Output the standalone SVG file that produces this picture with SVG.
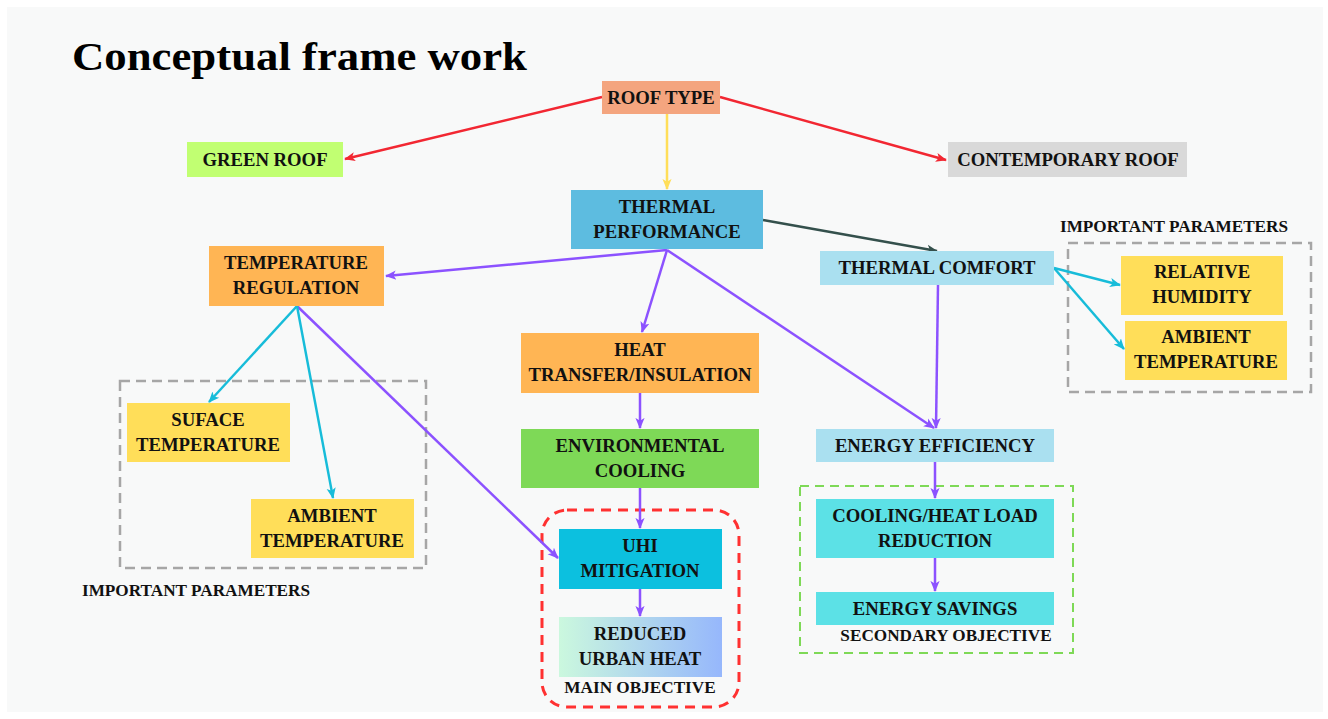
<svg xmlns="http://www.w3.org/2000/svg" width="1328" height="719" viewBox="0 0 1328 719">
<style>
.t{font-family:"Liberation Serif","Times New Roman",serif;font-weight:bold;font-size:18.7px;fill:#111;text-anchor:middle}
.lbl{font-family:"Liberation Serif","Times New Roman",serif;font-weight:bold;font-size:17.2px;fill:#111;text-anchor:middle}
.c{fill:none;stroke-width:2.5}
</style>
<defs>
<marker id="aR" viewBox="0 0 12 12" markerWidth="11" markerHeight="11" refX="11" refY="6" orient="auto" markerUnits="userSpaceOnUse"><path d="M0,1 L12,6 L0,11 L3,6z" fill="#F22732"/></marker>
<marker id="aY" viewBox="0 0 12 12" markerWidth="11" markerHeight="11" refX="11" refY="6" orient="auto" markerUnits="userSpaceOnUse"><path d="M0,1 L12,6 L0,11 L3,6z" fill="#FFDE59"/></marker>
<marker id="aS" viewBox="0 0 12 12" markerWidth="11" markerHeight="11" refX="11" refY="6" orient="auto" markerUnits="userSpaceOnUse"><path d="M0,1 L12,6 L0,11 L3,6z" fill="#34504C"/></marker>
<marker id="aP" viewBox="0 0 12 12" markerWidth="11" markerHeight="11" refX="11" refY="6" orient="auto" markerUnits="userSpaceOnUse"><path d="M0,1 L12,6 L0,11 L3,6z" fill="#8C52FF"/></marker>
<marker id="aC" viewBox="0 0 12 12" markerWidth="11" markerHeight="11" refX="11" refY="6" orient="auto" markerUnits="userSpaceOnUse"><path d="M0,1 L12,6 L0,11 L3,6z" fill="#17BCD9"/></marker>
<linearGradient id="gUH" x1="0" y1="0" x2="1" y2="0"><stop offset="0" stop-color="#CBF8DE"/><stop offset="1" stop-color="#96B7FC"/></linearGradient>
</defs>
<rect x="0" y="0" width="1328" height="719" fill="#ffffff"/>
<rect x="7" y="7" width="1316" height="705" fill="#F8F9F9"/>
<text x="72" y="70" font-family="'Liberation Serif','Times New Roman',serif" font-weight="bold" font-size="41" fill="#000" textLength="455" lengthAdjust="spacingAndGlyphs">Conceptual frame work</text>

<g id="groups">
<rect x="120" y="381" width="306" height="187" fill="none" stroke="#A6A6A6" stroke-width="2.5" stroke-dasharray="10 6"/>
<rect x="1068" y="243" width="243" height="149" fill="none" stroke="#A6A6A6" stroke-width="2.5" stroke-dasharray="10 6"/>
<rect x="542" y="510" width="197" height="197" rx="25" fill="none" stroke="#FF3131" stroke-width="3" stroke-dasharray="10 7"/>
<rect x="800" y="486" width="273" height="167" fill="none" stroke="#7ED957" stroke-width="2" stroke-dasharray="9 6"/>
<text class="lbl" x="196" y="596">IMPORTANT PARAMETERS</text>
<text class="lbl" x="1174" y="232">IMPORTANT PARAMETERS</text>
<text class="lbl" x="640" y="693">MAIN OBJECTIVE</text>
<text class="lbl" x="946" y="641">SECONDARY OBJECTIVE</text>
</g>

<g id="connectors">
<path class="c" stroke="#F22732" d="M602,97 L345,159" marker-end="url(#aR)"/>
<path class="c" stroke="#F22732" d="M720,97 L946,160" marker-end="url(#aR)"/>
<path class="c" stroke="#FFDE59" d="M667,114 L667,189" marker-end="url(#aY)"/>
<path class="c" stroke="#34504C" d="M763,220 L937,251" marker-end="url(#aS)"/>
<path class="c" stroke="#8C52FF" d="M667,250 L386,276" marker-end="url(#aP)"/>
<path class="c" stroke="#8C52FF" d="M667,250 L642,332" marker-end="url(#aP)"/>
<path class="c" stroke="#8C52FF" d="M667,250 L934,428" marker-end="url(#aP)"/>
<path class="c" stroke="#8C52FF" d="M938,285 L936,428" marker-end="url(#aP)"/>
<path class="c" stroke="#8C52FF" d="M640,393 L640,428" marker-end="url(#aP)"/>
<path class="c" stroke="#8C52FF" d="M640,488 L640,528" marker-end="url(#aP)"/>
<path class="c" stroke="#8C52FF" d="M640,589 L640,616" marker-end="url(#aP)"/>
<path class="c" stroke="#8C52FF" d="M297,306 L558,558" marker-end="url(#aP)"/>
<path class="c" stroke="#8C52FF" d="M935,462 L935,498" marker-end="url(#aP)"/>
<path class="c" stroke="#8C52FF" d="M935,558 L935,591" marker-end="url(#aP)"/>
<path class="c" stroke="#17BCD9" d="M297,306 L209,402" marker-end="url(#aC)"/>
<path class="c" stroke="#17BCD9" d="M297,306 L333,498" marker-end="url(#aC)"/>
<path class="c" stroke="#17BCD9" d="M1054,268 L1120,285" marker-end="url(#aC)"/>
<path class="c" stroke="#17BCD9" d="M1054,268 L1124,349" marker-end="url(#aC)"/>
</g>

<g id="roof-type"><rect x="602" y="81" width="118" height="33" fill="#F4A57F"/><text class="t" x="661" y="104">ROOF TYPE</text></g>
<g id="green-roof"><rect x="187" y="142" width="156" height="35" fill="#C1FF72"/><text class="t" x="265" y="166">GREEN ROOF</text></g>
<g id="contemporary-roof"><rect x="948" y="142" width="239" height="35" fill="#D9D9D9"/><text class="t" x="1068" y="166">CONTEMPORARY ROOF</text></g>
<g id="thermal-performance"><rect x="571" y="190" width="192" height="59" fill="#5DBCE0"/><text class="t" x="667" y="213">THERMAL</text><text class="t" x="667" y="238">PERFORMANCE</text></g>
<g id="temperature-regulation"><rect x="209" y="246" width="175" height="60" fill="#FFB554"/><text class="t" x="296" y="269">TEMPERATURE</text><text class="t" x="296" y="294">REGULATION</text></g>
<g id="thermal-comfort"><rect x="820" y="251" width="234" height="34" fill="#AAE0F0"/><text class="t" x="937" y="274">THERMAL COMFORT</text></g>
<g id="relative-humidity"><rect x="1121" y="256" width="162" height="59" fill="#FFDE59"/><text class="t" x="1202" y="278">RELATIVE</text><text class="t" x="1202" y="303">HUMIDITY</text></g>
<g id="ambient-temperature-right"><rect x="1125" y="321" width="162" height="59" fill="#FFDE59"/><text class="t" x="1206" y="343">AMBIENT</text><text class="t" x="1206" y="368">TEMPERATURE</text></g>
<g id="heat-transfer"><rect x="521" y="333" width="238" height="60" fill="#FFB554"/><text class="t" x="640" y="356">HEAT</text><text class="t" x="640" y="381">TRANSFER/INSULATION</text></g>
<g id="environmental-cooling"><rect x="521" y="429" width="238" height="59" fill="#7ED957"/><text class="t" x="640" y="452">ENVIRONMENTAL</text><text class="t" x="640" y="477">COOLING</text></g>
<g id="uhi-mitigation"><rect x="559" y="529" width="163" height="60" fill="#0CC0DF"/><text class="t" x="640" y="552">UHI</text><text class="t" x="640" y="577">MITIGATION</text></g>
<g id="reduced-urban-heat"><rect x="559" y="617" width="163" height="60" fill="url(#gUH)"/><text class="t" x="640" y="640">REDUCED</text><text class="t" x="640" y="665">URBAN HEAT</text></g>
<g id="surface-temperature"><rect x="127" y="403" width="163" height="59" fill="#FFDE59"/><text class="t" x="208" y="426">SUFACE</text><text class="t" x="208" y="451">TEMPERATURE</text></g>
<g id="ambient-temperature-left"><rect x="251" y="499" width="163" height="59" fill="#FFDE59"/><text class="t" x="332" y="522">AMBIENT</text><text class="t" x="332" y="547">TEMPERATURE</text></g>
<g id="energy-efficiency"><rect x="816" y="429" width="238" height="33" fill="#AAE0F0"/><text class="t" x="935" y="452">ENERGY EFFICIENCY</text></g>
<g id="cooling-heat-load"><rect x="816" y="499" width="238" height="59" fill="#5CE1E6"/><text class="t" x="935" y="522">COOLING/HEAT LOAD</text><text class="t" x="935" y="547">REDUCTION</text></g>
<g id="energy-savings"><rect x="816" y="592" width="238" height="33" fill="#5CE1E6"/><text class="t" x="935" y="615">ENERGY SAVINGS</text></g>
</svg>
